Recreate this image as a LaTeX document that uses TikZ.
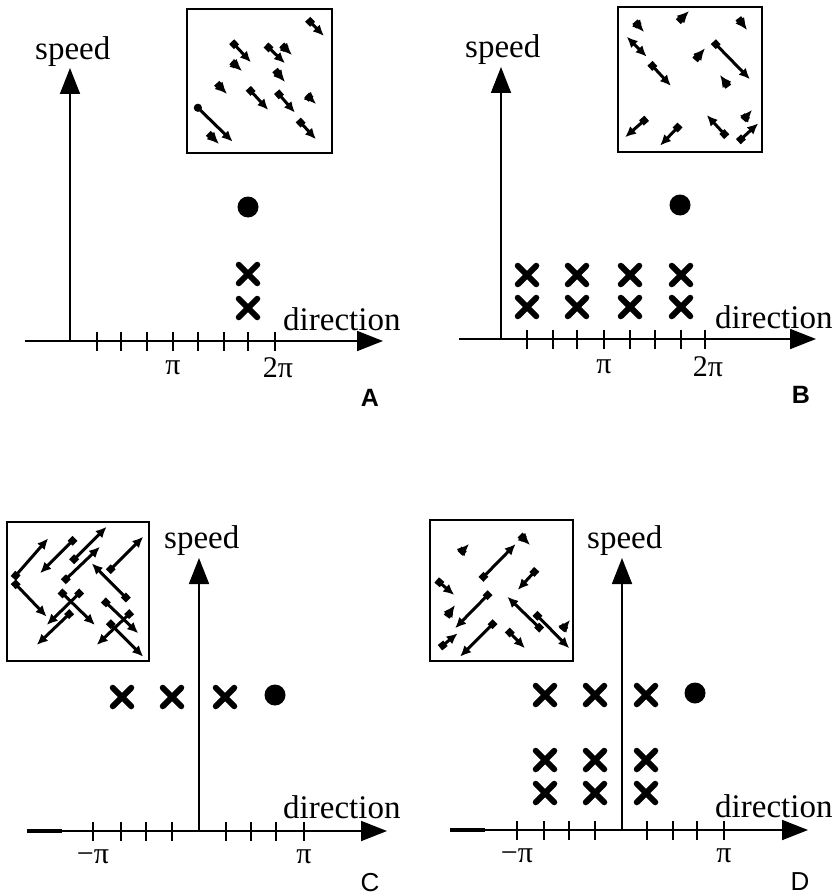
\documentclass[tikz,border=0pt]{standalone}
\usepackage{fontspec}
\setmainfont{Liberation Serif}
\newfontfamily\labfont{Liberation Sans}
\usetikzlibrary{arrows.meta,shapes.misc}
\begin{document}
\begin{tikzpicture}[x=1pt,y=-1pt,
  axis/.style={line width=1.8pt,-{Triangle[length=26pt,width=20pt]}},
  thickpart/.style={line width=3.2pt},
  tickmark/.style={line width=2.2pt},
  xcross/.style={cross out,draw,line width=6pt,line cap=round,minimum size=12.5pt,inner sep=0pt},
  spot/.style={circle,fill,minimum size=21pt,inner sep=0pt},
  inset/.style={draw,line width=1.4pt},
  vec/.style={line width=3pt,{Square[length=7pt,width=7pt]}-{Latex[length=11pt,width=10pt]}},
  stub/.style={line width=3pt,{Square[length=6pt,width=7pt]}-{Latex[length=12pt,width=11pt]}},
  dbl/.style={line width=3pt,{Latex[length=11pt,width=10pt]}-{Latex[length=11pt,width=10pt]}},
  axlabel/.style={font=\fontsize{33}{36}\selectfont,inner sep=0pt,anchor=base west},
  pilabel/.style={font=\fontsize{30}{32}\selectfont,inner sep=0pt},
  panel/.style={font=\labfont\fontsize{26}{28}\selectfont,inner sep=0pt},
  boldpanel/.style={font=\labfont\bfseries\fontsize{25}{28}\selectfont,inner sep=0pt}
]
\useasboundingbox (0,0) rectangle (837,896);

% ================= Panel A =================
\draw[axis] (25,341) -- (383,341);
\draw[axis] (70,341) -- (70,68);
\foreach \t in {97,121,147,173,198,224,248,275}
  \draw[tickmark] (\t,332) -- (\t,351);
\node[pilabel] (apione) at (173,368) {π};
\node[pilabel] (apitwo) at (278,368) {2π};
\node[axlabel] (aspeed) at (35,60) {speed};
\node[axlabel] (adir) at (283,330) {direction};
\node[boldpanel] (alab) at (370,398) {A};
\node[spot] (adot) at (248,207) {};
\node[xcross] (ax1) at (248,274) {};
\node[xcross] (ax2) at (248,308) {};
\draw[inset] (187,9) rectangle (332,153);
\draw[vec] (307.7,19.3) -- (324,36);
\draw[vec] (231.7,41.7) -- (251,62.3);
\draw[vec] (266,45) -- (285,63.3);
\draw[stub] (281.7,45) -- (292,55);
\draw[stub] (231.7,61.7) -- (242,71);
\draw[stub] (275,70) -- (285,82);
\draw[stub] (216.7,83.3) -- (227,94);
\draw[vec] (248.3,88.3) -- (268.3,110);
\draw[vec] (276.7,91.7) -- (295,112.7);
\draw[stub] (306.7,95) -- (316,104);
\draw[line width=3pt,{Circle[length=8pt]}-{Latex[length=11pt,width=10pt]}] (195,105) -- (232.7,141.7);
\draw[stub] (208.3,133.3) -- (219,144);
\draw[vec] (298.3,120) -- (316,139.3);

% ================= Panel B =================
\draw[axis] (459,339) -- (816,339);
\draw[axis] (501,339) -- (501,67);
\foreach \t in {527,553,577,604,630,655,681,705}
  \draw[tickmark] (\t,330) -- (\t,349);
\node[pilabel] (bpione) at (604,367) {π};
\node[pilabel] (bpitwo) at (708,367) {2π};
\node[axlabel] (bspeed) at (465,58) {speed};
\node[axlabel] (bdir) at (715,328) {direction};
\node[boldpanel] (blab) at (801,395) {B};
\node[spot] (bdot) at (680,205) {};
\foreach \cx in {527,577,630,681} {
  \node[xcross] at (\cx,275) {};
  \node[xcross] at (\cx,307) {};
}
\draw[inset] (618,7) rectangle (762,152);
\draw[stub] (678.3,21.7) -- (689,11);
\draw[stub] (635,21.7) -- (644,32);
\draw[stub] (738.3,18.3) -- (747,30);
\draw[dbl] (626.7,36.7) -- (646.7,56.7);
\draw[vec] (650,63.3) -- (671,86);
\draw[vec] (713.3,41.7) -- (750,79.3);
\draw[stub] (695,60) -- (705,48.3);
\draw[stub] (728.3,86.7) -- (720,75);
\draw[vec] (646.7,118.3) -- (625,137.3);
\draw[vec] (680,125) -- (660,145.7);
\draw[vec] (726.7,136.7) -- (706.7,115);
\draw[vec] (738.3,141.7) -- (758.3,123.3);
\draw[stub] (743.3,120) -- (752,110);

% ================= Panel C =================
\draw[axis] (27,831) -- (387,831);
\draw[thickpart] (27,831) -- (62,831);
\draw[axis] (199,831) -- (199,558);
\foreach \t in {93,121,146,172,226,251,276,304}
  \draw[tickmark] (\t,822) -- (\t,841);
\node[pilabel] (cpione) at (93,857) {−π};
\node[pilabel] (cpitwo) at (304,857) {π};
\node[axlabel] (cspeed) at (164,548) {speed};
\node[axlabel] (cdir) at (283,818) {direction};
\node[panel] (clab) at (370,883) {C};
\node[spot] (cdot) at (275,695) {};
\node[xcross] (cx1) at (122,697) {};
\node[xcross] (cx2) at (172,697) {};
\node[xcross] (cx3) at (225,697) {};
\draw[inset] (7,522) rectangle (149,661);
\draw[vec] (13.3,578.3) -- (48.3,538.3);
\draw[vec] (13.3,581.7) -- (46.7,616.7);
\draw[vec] (75,538.3) -- (40,573.3);
\draw[vec] (71.7,561.7) -- (106.7,526.7);
\draw[vec] (63.3,581.7) -- (100,546.7);
\draw[vec] (108.3,571.7) -- (143.3,536.7);
\draw[vec] (128.3,600) -- (91.7,563.3);
\draw[vec] (60,591) -- (95,625);
\draw[vec] (81.7,591) -- (46.7,625);
\draw[vec] (71.7,611.7) -- (36.7,645);
\draw[vec] (103.3,600) -- (138.3,633.3);
\draw[vec] (131.7,611.7) -- (96.7,645);
\draw[vec] (108.3,621.7) -- (143.3,656.7);

% ================= Panel D =================
\draw[axis] (450,830) -- (808,830);
\draw[thickpart] (450,830) -- (485,830);
\draw[axis] (622,830) -- (622,558);
\foreach \t in {517,544,569,595,647,673,697,724}
  \draw[tickmark] (\t,821) -- (\t,840);
\node[pilabel] (dpione) at (517,856) {−π};
\node[pilabel] (dpitwo) at (724,856) {π};
\node[axlabel] (dspeed) at (587,548) {speed};
\node[axlabel] (ddir) at (715,817) {direction};
\node[panel] (dlab) at (800,882) {D};
\node[spot] (ddot) at (695,693) {};
\foreach \cx in {545,595,646} {
  \node[xcross] at (\cx,695) {};
  \node[xcross] at (\cx,760) {};
  \node[xcross] at (\cx,793) {};
}
\draw[inset] (430,520) rectangle (573,661);
\draw[stub] (460,553.3) -- (469,544);
\draw[stub] (520,535) -- (530,545);
\draw[vec] (481,579.3) -- (515.7,544);
\draw[vec] (536.7,569.3) -- (517.7,590);
\draw[vec] (436.7,580) -- (454.3,595);
\draw[vec] (490,592.7) -- (455,628.3);
\draw[stub] (446.7,616.7) -- (455,605);
\draw[vec] (541.7,630) -- (507.3,596.7);
\draw[vec] (535,613.3) -- (569.3,648.3);
\draw[stub] (561.7,630) -- (570,620);
\draw[vec] (440,647.7) -- (457.7,633.3);
\draw[vec] (495,621.7) -- (460,656.7);
\draw[vec] (507.3,630) -- (525,648.3);
\end{tikzpicture}
\end{document}
